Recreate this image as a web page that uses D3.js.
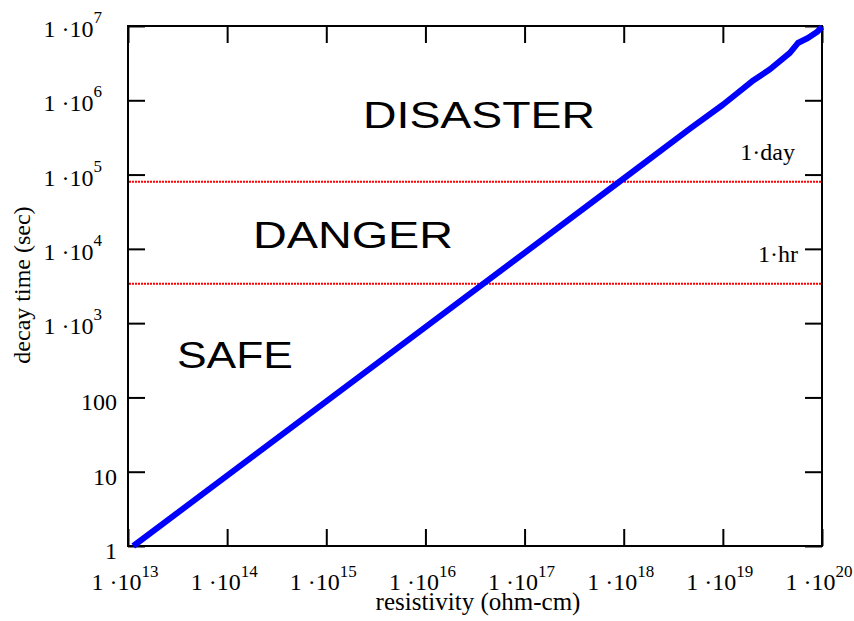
<html>
<head>
<meta charset="utf-8">
<title>decay time vs resistivity</title>
<style>
  body { margin: 0; background: #fff; }
  text { font-family: "Liberation Serif", "DejaVu Serif", serif; fill: #000; }
  .zone { font-family: "Liberation Sans", Arial, sans-serif; }
</style>
</head>
<body>
<script src="https://cdn.jsdelivr.net/npm/d3@7"></script>
<script>
// data
var resistivity = [1.13e13, 1e14, 1e15, 1e16, 1e17, 1e18, 4.7e18, 1e19, 1.97e19, 2.99e19, 4.74e19, 5.71e19, 7.21e19, 8.89e19, 1e20];
var decayTime   = [1, 8.85, 88.5, 885, 8850, 88500, 4.2e5, 8.7e5, 1.8e6, 2.62e6, 4.35e6, 5.9e6, 6.9e6, 8.3e6, 9.7e6];

var thresholdValues = [8.0e4, 3.4e3];
var thresholdLabels = ["1·day", "1·hr"];

var zoneLabels = ["DISASTER", "DANGER", "SAFE"];

var xTickExp = [13, 14, 15, 16, 17, 18, 19, 20];
var yTickValues = [1, 10, 100, 1e3, 1e4, 1e5, 1e6, 1e7];
var yTickPlain = ["1", "10", "100"];

var width = 854, height = 621;
var plot = {left: 128, right: 822, top: 26, bottom: 546};

var svg = d3.select("body").append("svg")
    .attr("width", width)
    .attr("height", height);

var x = d3.scaleLog().domain([1e13, 1e20]).range([plot.left, plot.right]);
var y = d3.scaleLog().domain([1, 1e7]).range([plot.bottom, plot.top]);

var tickLen = 17;

// ticks on all four sides, pointing inward
function styleAxis(g) {
    g.select(".domain").remove();
    g.selectAll(".tick line").attr("stroke", "#000").attr("stroke-width", 2);
    g.selectAll(".tick text").remove();
}
var xTickValues = xTickExp.map(function(e) { return Math.pow(10, e); });

svg.append("g").attr("transform", "translate(0," + plot.bottom + ")")
    .call(d3.axisBottom(x).tickValues(xTickValues).tickSizeInner(-tickLen).tickSizeOuter(0))
    .call(styleAxis);
svg.append("g").attr("transform", "translate(0," + plot.top + ")")
    .call(d3.axisTop(x).tickValues(xTickValues).tickSizeInner(-tickLen).tickSizeOuter(0))
    .call(styleAxis);
svg.append("g").attr("transform", "translate(" + plot.left + ",0)")
    .call(d3.axisLeft(y).tickValues(yTickValues).tickSizeInner(-tickLen).tickSizeOuter(0))
    .call(styleAxis);
svg.append("g").attr("transform", "translate(" + plot.right + ",0)")
    .call(d3.axisRight(y).tickValues(yTickValues).tickSizeInner(-tickLen).tickSizeOuter(0))
    .call(styleAxis);

// frame
svg.append("rect")
    .attr("x", plot.left).attr("y", plot.top)
    .attr("width", plot.right - plot.left)
    .attr("height", plot.bottom - plot.top)
    .attr("fill", "none")
    .attr("stroke", "#000")
    .attr("stroke-width", 2);

// x tick labels  1·10^n
var xl = svg.append("g").selectAll("text")
    .data(xTickExp)
    .enter().append("text")
    .attr("x", function(d) { return x(Math.pow(10, d)) - 3; })
    .attr("y", 590)
    .attr("text-anchor", "middle")
    .attr("font-size", 24);
xl.append("tspan").text("1 ·10");
xl.append("tspan").attr("dy", -13).attr("font-size", 17).text(function(d) { return d; });

// y tick labels
svg.append("g").selectAll("text")
    .data(yTickValues)
    .enter().append("text")
    .attr("font-size", 24)
    .attr("text-anchor", "end")
    .each(function(d, i) {
        var t = d3.select(this);
        if (i < yTickPlain.length) {
            t.attr("x", 117).attr("y", y(d) + 13).text(yTickPlain[i]);
        } else {
            t.attr("x", 102).attr("y", y(d) + 11);
            t.append("tspan").text("1 ·10");
            t.append("tspan").attr("dy", -14).attr("font-size", 17).text(Math.round(Math.log10(d)));
        }
    });

// threshold lines
svg.append("g").selectAll("line")
    .data(thresholdValues)
    .enter().append("line")
    .attr("x1", plot.left + 1).attr("x2", plot.right - 1)
    .attr("y1", function(d) { return y(d); })
    .attr("y2", function(d) { return y(d); })
    .attr("stroke", "#ff0000")
    .attr("stroke-width", 2)
    .attr("stroke-dasharray", "2,1");

// threshold labels near the right edge
svg.append("g").selectAll("text")
    .data(thresholdLabels)
    .enter().append("text")
    .attr("x", function(d, i) { return i == 0 ? 795 : 798; })
    .attr("y", function(d, i) { return i == 0 ? 160 : 262; })
    .attr("text-anchor", "end")
    .attr("font-size", 24)
    .text(function(d) { return d; });

// the curve
var pts = resistivity.map(function(r, i) { return [r, decayTime[i]]; });
svg.append("path")
    .datum(pts)
    .attr("fill", "none")
    .attr("stroke", "#0000ff")
    .attr("stroke-width", 6)
    .attr("stroke-linejoin", "round")
    .attr("d", d3.line().x(function(d) { return x(d[0]); }).y(function(d) { return y(d[1]); }));

// zone labels
var zonePos = [[479, 128, 232], [353, 248, 200], [235, 368, 116]];
svg.append("g").selectAll("text")
    .data(zoneLabels)
    .enter().append("text")
    .attr("class", "zone")
    .attr("x", function(d, i) { return zonePos[i][0]; })
    .attr("y", function(d, i) { return zonePos[i][1]; })
    .attr("text-anchor", "middle")
    .attr("font-size", 37)
    .attr("textLength", function(d, i) { return zonePos[i][2]; })
    .attr("lengthAdjust", "spacingAndGlyphs")
    .text(function(d) { return d; });

// axis titles
svg.append("text")
    .attr("x", 478).attr("y", 610)
    .attr("text-anchor", "middle")
    .attr("font-size", 25)
    .text("resistivity (ohm-cm)");

svg.append("text")
    .attr("transform", "translate(30,285) rotate(-90)")
    .attr("text-anchor", "middle")
    .attr("font-size", 24)
    .text("decay time (sec)");
</script>
</body>
</html>
